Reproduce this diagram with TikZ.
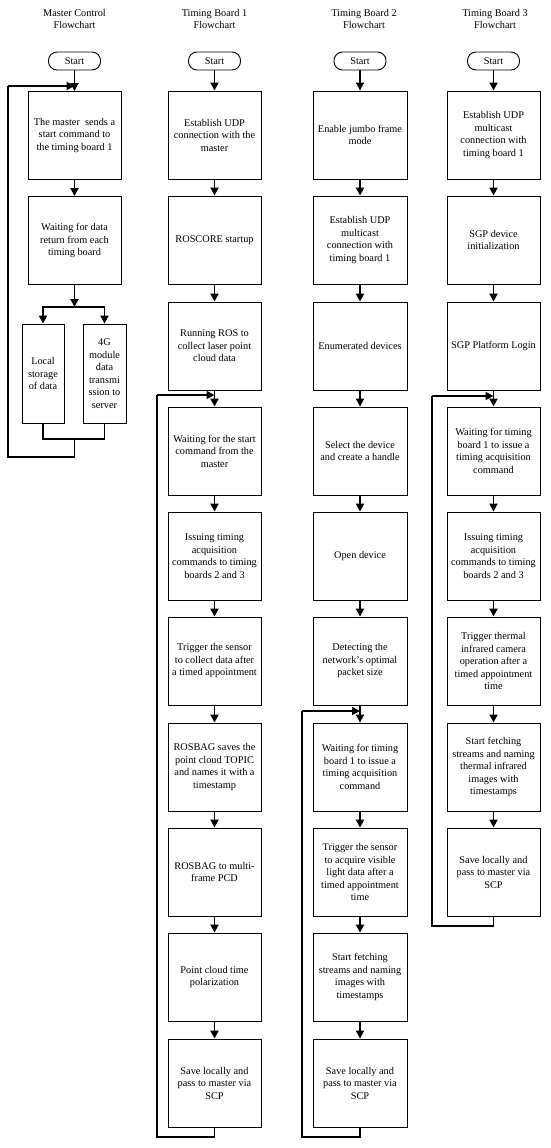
\documentclass[tikz,border=0pt]{standalone}
\usepackage{fontspec}
\setmainfont{Liberation Serif}
\usetikzlibrary{arrows.meta,positioning}
\tikzset{
  box/.style={draw, line width=0.9pt, minimum width=93pt, minimum height=88pt, inner sep=0pt, align=center, font=\fontsize{10.3}{12.5}\selectfont},
  narrow/.style={draw, line width=0.9pt, minimum height=99pt, inner sep=0pt, align=center, font=\fontsize{10.3}{12.5}\selectfont},
  term/.style={draw, line width=0.9pt, rounded corners=8.5pt, minimum width=52pt, minimum height=18pt, inner sep=0pt, font=\fontsize{10.3}{12}\selectfont},
  ttl/.style={align=center, font=\fontsize{10.3}{12}\selectfont},
  arr/.style={line width=1.8pt, -{Triangle[length=8pt,width=8pt]}},
  ln/.style={line width=1.8pt}
}
\begin{document}
\begin{tikzpicture}[x=1pt,y=-1pt]
\useasboundingbox (0,0) rectangle (550,1148);
\fill[white] (0,0) rectangle (550,1148);

% titles
\node[ttl] (t0) at (74.5,19) {Master Control\\Flowchart};
\node[ttl] (t1) at (214.5,19) {Timing Board 1\\Flowchart};
\node[ttl] (t2) at (364,19) {Timing Board 2\\Flowchart};
\node[ttl] (t3) at (495,19) {Timing Board 3\\Flowchart};

% ---------- Master ----------
\node[term] (ms) at (74.5,61) {Start};
\node[box] (m1) at (74.5,135.5) {The master\ \ sends a\\start command to\\the timing board 1};
\node[box] (m2) at (74.5,240.5) {Waiting for data\\return from each\\timing board};
\node[narrow, minimum width=42pt] (ml) at (43,373.5) {Local\\storage\\of data};
\node[narrow, minimum width=43pt] (mr) at (104.5,373.5) {4G\\module\\data\\transmi\\ssion to\\server};
\coordinate (mjt) at (74.5,86);
\coordinate (mjb) at (74.5,307);
\coordinate (mk) at (74.5,439);
\coordinate (mloop) at (8,457);
\draw[ln] (ms.south) -- (mjt);
\draw[arr] (mjt) -- (m1.north);
\draw[arr] (m1.south) -- (m2.north);
\draw[arr] (m2.south) -- (mjb);
\draw[arr] (mjb) -| (ml.north);
\draw[arr] (mjb) -| (mr.north);
\draw[line width=1.2pt] (ml.south) -- (ml.south |- mk) -- (mr.south |- mk) -- (mr.south);
\draw[ln] (mk) -- (mk |- mloop) -- (mloop) -- (mloop |- mjt);
\draw[arr] (mloop |- mjt) -- (mjt);

% ---------- Timing Board 1 ----------
\node[term] (as) at (214.5,61) {Start};
\node[box] (a1) at (214.5,135) {Establish UDP\\connection with the\\master};
\node[box] (a2) at (214.5,240) {ROSCORE startup};
\node[box] (a3) at (214.5,346) {Running ROS to\\collect laser point\\cloud data};
\node[box] (a4) at (214.5,451) {Waiting for the start\\command from the\\master};
\node[box] (a5) at (214.5,556) {Issuing timing\\acquisition\\commands to timing\\boards 2 and 3};
\node[box] (a6) at (214.5,661) {Trigger the sensor\\to collect data after\\a timed appointment};
\node[box] (a7) at (214.5,767) {ROSBAG saves the\\point cloud TOPIC\\and names it with a\\timestamp};
\node[box] (a8) at (214.5,872) {ROSBAG to multi-\\frame PCD};
\node[box] (a9) at (214.5,977) {Point cloud time\\polarization};
\node[box] (a10) at (214.5,1083) {Save locally and\\pass to master via\\SCP};
\draw[arr] (as.south) -- (a1.north);
\foreach \i/\j in {1/2,2/3,3/4,4/5,5/6,6/7,7/8,8/9,9/10}{\draw[arr] (a\i.south) -- (a\j.north);}
\coordinate (aj) at (214.5,395);
\coordinate (al) at (157,1137);
\draw[ln] (a10.south) -- (a10.south |- al) -- (al) -- (al |- aj);
\draw[arr] (al |- aj) -- (aj);

% ---------- Timing Board 2 ----------
\node[term] (bs) at (360,61) {Start};
\node[box, minimum width=94pt] (b1) at (360,135) {Enable jumbo frame\\mode};
\node[box, minimum width=94pt] (b2) at (360,240) {Establish UDP\\multicast\\connection with\\timing board 1};
\node[box, minimum width=94pt] (b3) at (360,346) {Enumerated devices};
\node[box, minimum width=94pt] (b4) at (360,451) {Select the device\\and create a handle};
\node[box, minimum width=94pt] (b5) at (360,556) {Open device};
\node[box, minimum width=94pt] (b6) at (360,661) {Detecting the\\network's optimal\\packet size};
\node[box, minimum width=94pt] (b7) at (360,767) {Waiting for timing\\board 1 to issue a\\timing acquisition\\command};
\node[box, minimum width=94pt] (b8) at (360,872) {Trigger the sensor\\to acquire visible\\light data after a\\timed appointment\\time};
\node[box, minimum width=94pt] (b9) at (360,977) {Start fetching\\streams and naming\\images with\\timestamps};
\node[box, minimum width=94pt] (b10) at (360,1083) {Save locally and\\pass to master via\\SCP};
\draw[arr] (bs.south) -- (b1.north);
\foreach \i/\j in {1/2,2/3,3/4,4/5,5/6,6/7,7/8,8/9,9/10}{\draw[arr] (b\i.south) -- (b\j.north);}
\coordinate (bj) at (360,711);
\coordinate (bl) at (302,1137);
\draw[ln] (b10.south) -- (b10.south |- bl) -- (bl) -- (bl |- bj);
\draw[arr] (bl |- bj) -- (bj);

% ---------- Timing Board 3 ----------
\node[term] (cs) at (493.5,61) {Start};
\node[box] (c1) at (493.5,135) {Establish UDP\\multicast\\connection with\\timing board 1};
\node[box] (c2) at (493.5,240) {SGP device\\initialization};
\node[box] (c3) at (493.5,346) {SGP Platform Login};
\node[box] (c4) at (493.5,451) {Waiting for timing\\board 1 to issue a\\timing acquisition\\command};
\node[box] (c5) at (493.5,556) {Issuing timing\\acquisition\\commands to timing\\boards 2 and 3};
\node[box] (c6) at (493.5,661) {Trigger thermal\\infrared camera\\operation after a\\timed appointment\\time};
\node[box] (c7) at (493.5,767) {Start fetching\\streams and naming\\thermal infrared\\images with\\timestamps};
\node[box] (c8) at (493.5,872) {Save locally and\\pass to master via\\SCP};
\draw[arr] (cs.south) -- (c1.north);
\foreach \i/\j in {1/2,2/3,3/4,4/5,5/6,6/7,7/8}{\draw[arr] (c\i.south) -- (c\j.north);}
\coordinate (cj) at (493.5,396);
\coordinate (cl) at (432,926);
\draw[ln] (c8.south) -- (c8.south |- cl) -- (cl) -- (cl |- cj);
\draw[arr] (cl |- cj) -- (cj);
\end{tikzpicture}
\end{document}
